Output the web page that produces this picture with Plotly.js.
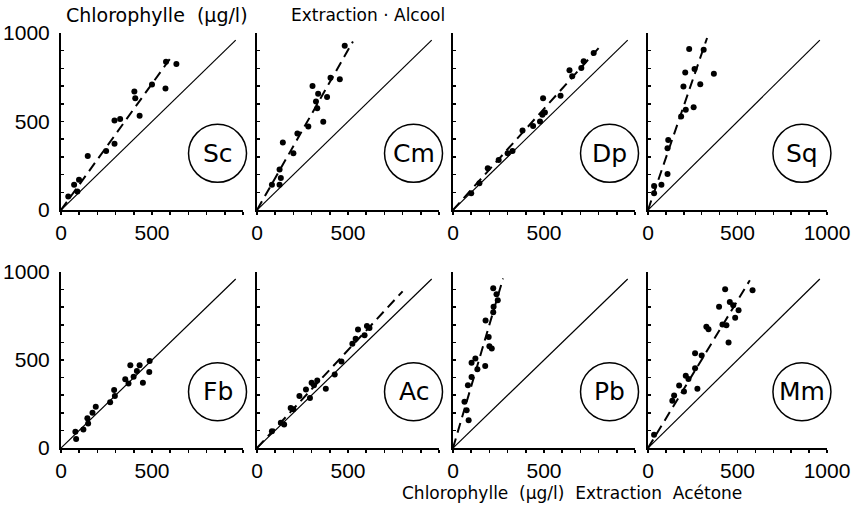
<!DOCTYPE html>
<html><head><meta charset="utf-8">
<script src="https://cdn.plot.ly/plotly-3.0.1.min.js"></script>
<style>html,body{margin:0;padding:0;background:#fff}</style>
</head><body><div id="chart" style="width:852px;height:507px"></div>
<script>
// Panel labels
const panelLabels = ['Sc','Cm','Dp','Sq','Fb','Ac','Pb','Mm'];
// Tick labels
const tickVals = [0,100,200,300,400,500,600,700,800,900,1000];
const xTickShort = ['0','','','','','500','','','','',''];
const xTickLong = ['0','','','','','500','','','','','1000'];
const yTickText = ['0','','','','','500','','','','','1000'];
// 1:1 line
const diagX = [0, 960];
const diagY = [0, 960];

// Sc
const scX = [40,72,99,90,147,248,294,294,325,403,408,432,500,574,577,634];
const scY = [76,143,171,105,305,333,375,505,514,670,632,533,709,686,838,825];
const scFitX = [0,610], scFitY = [0,870];
// Cm
const cmX = [82,124,131,124,142,200,222,282,305,324,331,336,364,385,404,455,482];
const cmY = [143,143,181,229,381,320,432,472,701,613,575,657,499,638,747,739,928];
const cmFitX = [0,527], cmFitY = [0,952];
// Dp
const dpX = [100,145,191,251,300,327,382,440,478,491,495,505,591,640,655,705,718,773];
const dpY = [94,151,236,283,321,334,449,475,500,538,632,551,645,789,755,802,840,887];
const dpFitX = [0,800], dpFitY = [0,915];
// Sq
const sqX = [34,34,75,109,109,113,185,198,208,211,230,255,260,292,311,368];
const sqY = [94,136,142,204,349,396,528,698,777,566,909,581,796,711,906,770];
const sqFitX = [0,330], sqFitY = [0,972];
// Fb
const fbX = [79,83,123,145,149,173,191,270,292,296,353,371,381,399,417,432,450,487,485];
const fbY = [93,51,105,169,139,200,234,260,329,295,390,367,470,405,437,470,371,494,432];
// Ac
const acX = [82,131,149,185,200,233,269,291,300,313,331,378,427,464,524,542,555,591,604,618];
const acY = [95,144,133,227,220,295,333,284,371,356,384,337,417,492,593,621,674,640,693,682];
const acFitX = [0,800], acFitY = [0,890];
// Pb
const pbX = [63,75,86,82,102,102,123,134,177,179,196,200,213,221,223,221,239,246];
const pbY = [263,215,157,356,403,485,509,448,466,724,631,578,565,771,802,907,873,840];
const pbFitX = [0,275], pbFitY = [0,963];
// Mm
const mmX = [34,136,146,174,201,211,226,263,263,276,300,326,338,397,416,431,438,450,457,476,487,506,584];
const mmY = [75,268,298,355,321,411,392,453,538,336,525,689,675,802,702,902,698,600,830,811,740,783,896];
const mmFitX = [0,569], mmFitY = [0,953];

const panels = [
  {x: scX, y: scY, fx: scFitX, fy: scFitY},
  {x: cmX, y: cmY, fx: cmFitX, fy: cmFitY},
  {x: dpX, y: dpY, fx: dpFitX, fy: dpFitY},
  {x: sqX, y: sqY, fx: sqFitX, fy: sqFitY},
  {x: fbX, y: fbY, fx: null, fy: null},
  {x: acX, y: acY, fx: acFitX, fy: acFitY},
  {x: pbX, y: pbY, fx: pbFitX, fy: pbFitY},
  {x: mmX, y: mmY, fx: mmFitX, fy: mmFitY}
];

const W = 852, H = 507;
const lefts = [61, 257, 453, 648];
const widths = [182, 182, 182, 179];
const rows = [{bottom: 210, h: 177}, {bottom: 448, h: 176}];
const font = 'DejaVu Sans, Liberation Sans, sans-serif';
const tickFont = {size: 21, family: 'Liberation Sans, Arial, sans-serif', color: '#000'};

const traces = [];
const layout = {
  width: W, height: H, margin: {l:0, r:0, t:0, b:0},
  paper_bgcolor: '#fff', plot_bgcolor: '#fff', showlegend: false,
  shapes: [], annotations: [], font: {family: font, color: '#000'}
};

panels.forEach((p, i) => {
  const n = i + 1;
  const xa = 'x' + (n === 1 ? '' : n), ya = 'y' + (n === 1 ? '' : n);
  const col = i % 4, row = Math.floor(i / 4);
  const l = lefts[col], pw = widths[col], r = rows[row];
  layout['xaxis' + (n === 1 ? '' : n)] = {
    domain: [l / W, (l + pw) / W], anchor: ya, range: [0, 1000],
    showgrid: false, zeroline: false, showline: true, linecolor: '#000', linewidth: 2,
    ticks: 'outside', ticklen: 3, tickwidth: 1.5, tickcolor: '#000',
    tickmode: 'array', tickvals: tickVals,
    ticktext: (col === 3) ? xTickLong : xTickShort, ticklabeloverflow: 'allow',
    tickfont: tickFont, fixedrange: true
  };
  layout['yaxis' + (n === 1 ? '' : n)] = {
    domain: [(H - r.bottom) / H, (H - r.bottom + r.h) / H], anchor: xa, range: [0, 1000],
    showgrid: false, zeroline: false, showline: true, linecolor: '#000', linewidth: 2,
    ticks: 'inside', ticklen: 3, tickwidth: 1.5, tickcolor: '#000',
    tickmode: 'array', tickvals: tickVals, ticklabeloverflow: 'allow', ticklabelstandoff: 5,
    ticktext: col === 0 ? yTickText : tickVals.map(() => ''),
    tickfont: tickFont, fixedrange: true
  };
  traces.push({x: diagX, y: diagY, xaxis: xa, yaxis: ya, mode: 'lines',
    line: {color: '#000', width: 1.2}, hoverinfo: 'skip'});
  if (p.fx) {
    traces.push({x: p.fx, y: p.fy, xaxis: xa, yaxis: ya, mode: 'lines',
      line: {color: '#000', width: 2, dash: '10px,6px'}, hoverinfo: 'skip'});
  }
  traces.push({x: p.x, y: p.y, xaxis: xa, yaxis: ya, mode: 'markers',
    marker: {color: '#000', size: 6}});
  // label circle in paper coordinates (not clipped by subplot)
  const cx = l + 0.86 * pw, cy = r.bottom - 0.32 * r.h, rad = 29;
  layout.shapes.push({type: 'circle', xref: 'paper', yref: 'paper',
    x0: (cx - rad) / W, x1: (cx + rad) / W, y0: 1 - (cy + rad) / H, y1: 1 - (cy - rad) / H,
    line: {color: '#000', width: 1.5}});
  layout.annotations.push({xref: 'paper', yref: 'paper', x: cx / W, y: 1 - cy / H,
    xanchor: 'center', yanchor: 'middle', text: panelLabels[i],
    showarrow: false, font: {size: 25, family: font, color: '#000'}});
});

layout.annotations.push({xref: 'paper', yref: 'paper', x: 64 / W, y: 1 - 15 / H,
  xanchor: 'left', yanchor: 'middle', showarrow: false,
  text: 'Chlorophylle  (µg/l)', font: {size: 19, family: font, color: '#000'}});
layout.annotations.push({xref: 'paper', yref: 'paper', x: 289 / W, y: 1 - 15 / H,
  xanchor: 'left', yanchor: 'middle', showarrow: false,
  text: 'Extraction · Alcool', font: {size: 17, family: font, color: '#000'}});
layout.annotations.push({xref: 'paper', yref: 'paper', x: 400 / W, y: 1 - 493 / H,
  xanchor: 'left', yanchor: 'middle', showarrow: false,
  text: 'Chlorophylle  (µg/l)  Extraction  Acétone', font: {size: 17, family: font, color: '#000'}});

Plotly.newPlot('chart', traces, layout, {displayModeBar: false, staticPlot: true});
</script></body></html>
